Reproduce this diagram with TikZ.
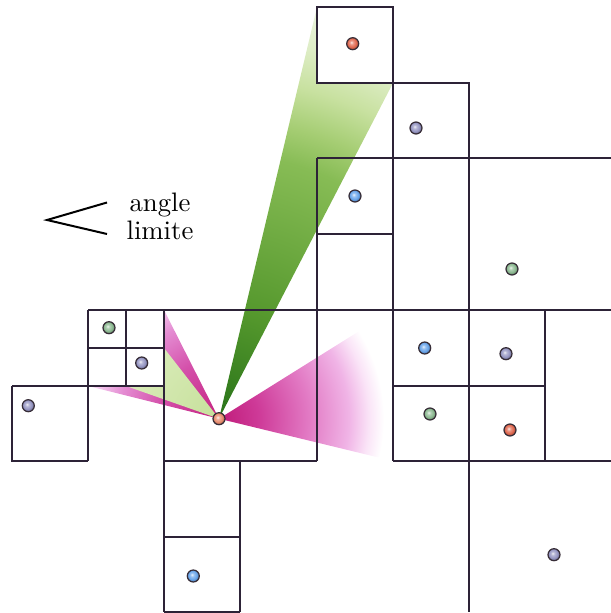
\documentclass[tikz,border=0pt]{standalone}
\usetikzlibrary{calc}
\definecolor{gridline}{RGB}{45,35,55}
\definecolor{dotedge}{RGB}{55,45,55}
% green wedge
\definecolor{g0}{RGB}{40,115,25}
\definecolor{g1}{RGB}{85,152,45}
\definecolor{g2}{RGB}{135,188,85}
\definecolor{g3}{RGB}{165,205,115}
\definecolor{g4}{RGB}{200,225,160}
\definecolor{g5}{RGB}{222,237,198}
\definecolor{g6}{RGB}{238,245,228}
% pink wedges
\definecolor{p0}{RGB}{192,28,122}
\definecolor{p1}{RGB}{206,58,152}
\definecolor{p2}{RGB}{226,122,196}
\definecolor{p3}{RGB}{240,180,230}
\definecolor{p4}{RGB}{250,228,247}
\definecolor{l0}{RGB}{196,34,128}
\definecolor{l1}{RGB}{212,80,170}
\definecolor{l2}{RGB}{228,140,210}
\definecolor{l3}{RGB}{245,205,240}
\definecolor{l4}{RGB}{252,238,250}
% light green
\definecolor{lg0}{RGB}{198,224,155}
\definecolor{lg1}{RGB}{222,238,192}
% dots
\definecolor{cred}{RGB}{225,105,80}
\definecolor{corange}{RGB}{232,140,110}
\definecolor{cpurple}{RGB}{150,150,195}
\definecolor{cblue}{RGB}{105,165,235}
\definecolor{cgreen}{RGB}{140,185,145}
% green: radius 430px = 25bp
\pgfdeclareradialshading{greenwedge}{\pgfpoint{0bp}{0bp}}{color(0bp)=(g0); color(6.4bp)=(g1); color(15.4bp)=(g2); color(17.4bp)=(g3); color(19.8bp)=(g4); color(22.1bp)=(g5); color(25bp)=(g6); color(50bp)=(g6)}
% right pink: radius 165px = 25bp
\pgfdeclareradialshading{pinkright}{\pgfpoint{0bp}{0bp}}{color(0bp)=(p0); color(6bp)=(p1); color(13.6bp)=(p2); color(19.7bp)=(p3); color(22.7bp)=(p4); color(25bp)=(white); color(50bp)=(white)}
% left pink: radius 140px = 25bp
\pgfdeclareradialshading{pinkleft}{\pgfpoint{0bp}{0bp}}{color(0bp)=(l0); color(10.7bp)=(l1); color(17.9bp)=(l2); color(22.5bp)=(l3); color(25bp)=(l4); color(50bp)=(l4)}
\pgfdeclareradialshading{lightgreen}{\pgfpoint{0bp}{0bp}}{color(0bp)=(lg0); color(25bp)=(lg1); color(50bp)=(lg1)}
\newcommand\mkballshade[2]{\pgfdeclareradialshading{#1}{\pgfpoint{-6bp}{6bp}}{color(0bp)=(#2!15!white); color(8bp)=(#2!70!white); color(18bp)=(#2); color(26bp)=(#2!70!black); color(50bp)=(#2!55!black)}}
\mkballshade{ballred}{cred}
\mkballshade{ballorange}{corange}
\mkballshade{ballpurple}{cpurple}
\mkballshade{ballblue}{cblue}
\mkballshade{ballgreen}{cgreen}
\begin{document}
\begin{tikzpicture}[x=0.013158cm, y=-0.013158cm,
  gridl/.style={draw=gridline, line width=0.5pt},
  dot/.style={circle, draw=dotedge, line width=0.45pt, inner sep=0pt, minimum size=0.158cm, shade},
  lbl/.style={font=\fontsize{10}{10.4}\selectfont, align=center, inner sep=0pt}]
\useasboundingbox (0,0) rectangle (611,613);
\coordinate (C) at (219,418.7);
% ---------- wedges ----------
\begin{scope}
  \clip (C) -- (317,7) -- (317,83) -- (393,83) -- cycle;
  \shade[shading=greenwedge] (C) circle[radius=5.66cm];
\end{scope}
\begin{scope}
  \clip (C) -- (393,310) -- (393,461) -- cycle;
  \shade[shading=pinkright] (C) circle[radius=2.17cm];
\end{scope}
\begin{scope}
  \clip (C) -- (164,310) -- (164,386) -- (88,386) -- cycle;
  \shade[shading=pinkleft] (C) circle[radius=1.84cm];
\end{scope}
\begin{scope}
  \clip (C) -- (164,348) -- (164,386) -- (126,386) -- cycle;
  \shade[shading=lightgreen] (C) circle[radius=1.6cm];
\end{scope}
% ---------- grid ----------
\draw[gridl] (317,7) rectangle (393,83);
\draw[gridl] (393,83) rectangle (469,158);
\draw[gridl] (317,158) -- (611,158);
\draw[gridl] (317,234) -- (393,234);
\draw[gridl] (317,158) -- (317,461);
\draw[gridl] (393,83) -- (393,461);
\draw[gridl] (469,83) -- (469,612);
\draw[gridl] (88,310) -- (611,310);
\draw[gridl] (545,310) -- (545,461);
\draw[gridl] (393,386) -- (545,386);
\draw[gridl] (393,461) -- (611,461);
\draw[gridl] (88,310) -- (88,461);
\draw[gridl] (126,310) -- (126,386);
\draw[gridl] (164,310) -- (164,612);
\draw[gridl] (88,348) -- (164,348);
\draw[gridl] (12,386) -- (164,386);
\draw[gridl] (12,386) -- (12,461) -- (88,461);
\draw[gridl] (164,461) -- (317,461);
\draw[gridl] (240,461) -- (240,612);
\draw[gridl] (164,537) -- (240,537);
\draw[gridl] (164,612) -- (240,612);
% ---------- dots ----------
\node[dot, shading=ballred]    (r1) at (352.7,43.7) {};
\node[dot, shading=ballpurple] (v1) at (416,128) {};
\node[dot, shading=ballblue]   (b1) at (355,196) {};
\node[dot, shading=ballgreen]  (g1) at (512,269) {};
\node[dot, shading=ballgreen]  (g2) at (109,327.7) {};
\node[dot, shading=ballpurple] (v2) at (141.7,363) {};
\node[dot, shading=ballpurple] (v3) at (28.3,405.7) {};
\node[dot, shading=ballorange] (c0) at (C) {};
\node[dot, shading=ballblue]   (b2) at (424.7,348) {};
\node[dot, shading=ballpurple] (v4) at (506,353.7) {};
\node[dot, shading=ballgreen]  (g3) at (430,414) {};
\node[dot, shading=ballred]    (r2) at (510,430) {};
\node[dot, shading=ballpurple] (v5) at (554,554.7) {};
\node[dot, shading=ballblue]   (b3) at (193.3,576) {};
% ---------- angle label ----------
\coordinate (ap) at (47,220);
\coordinate (au) at (107,202.5);
\coordinate (al) at (107,234);
\draw[line width=0.75pt] (au) -- (ap) -- (al);
\node[lbl] (txt) at (160,216) {angle\\limite};
\end{tikzpicture}
\end{document}
